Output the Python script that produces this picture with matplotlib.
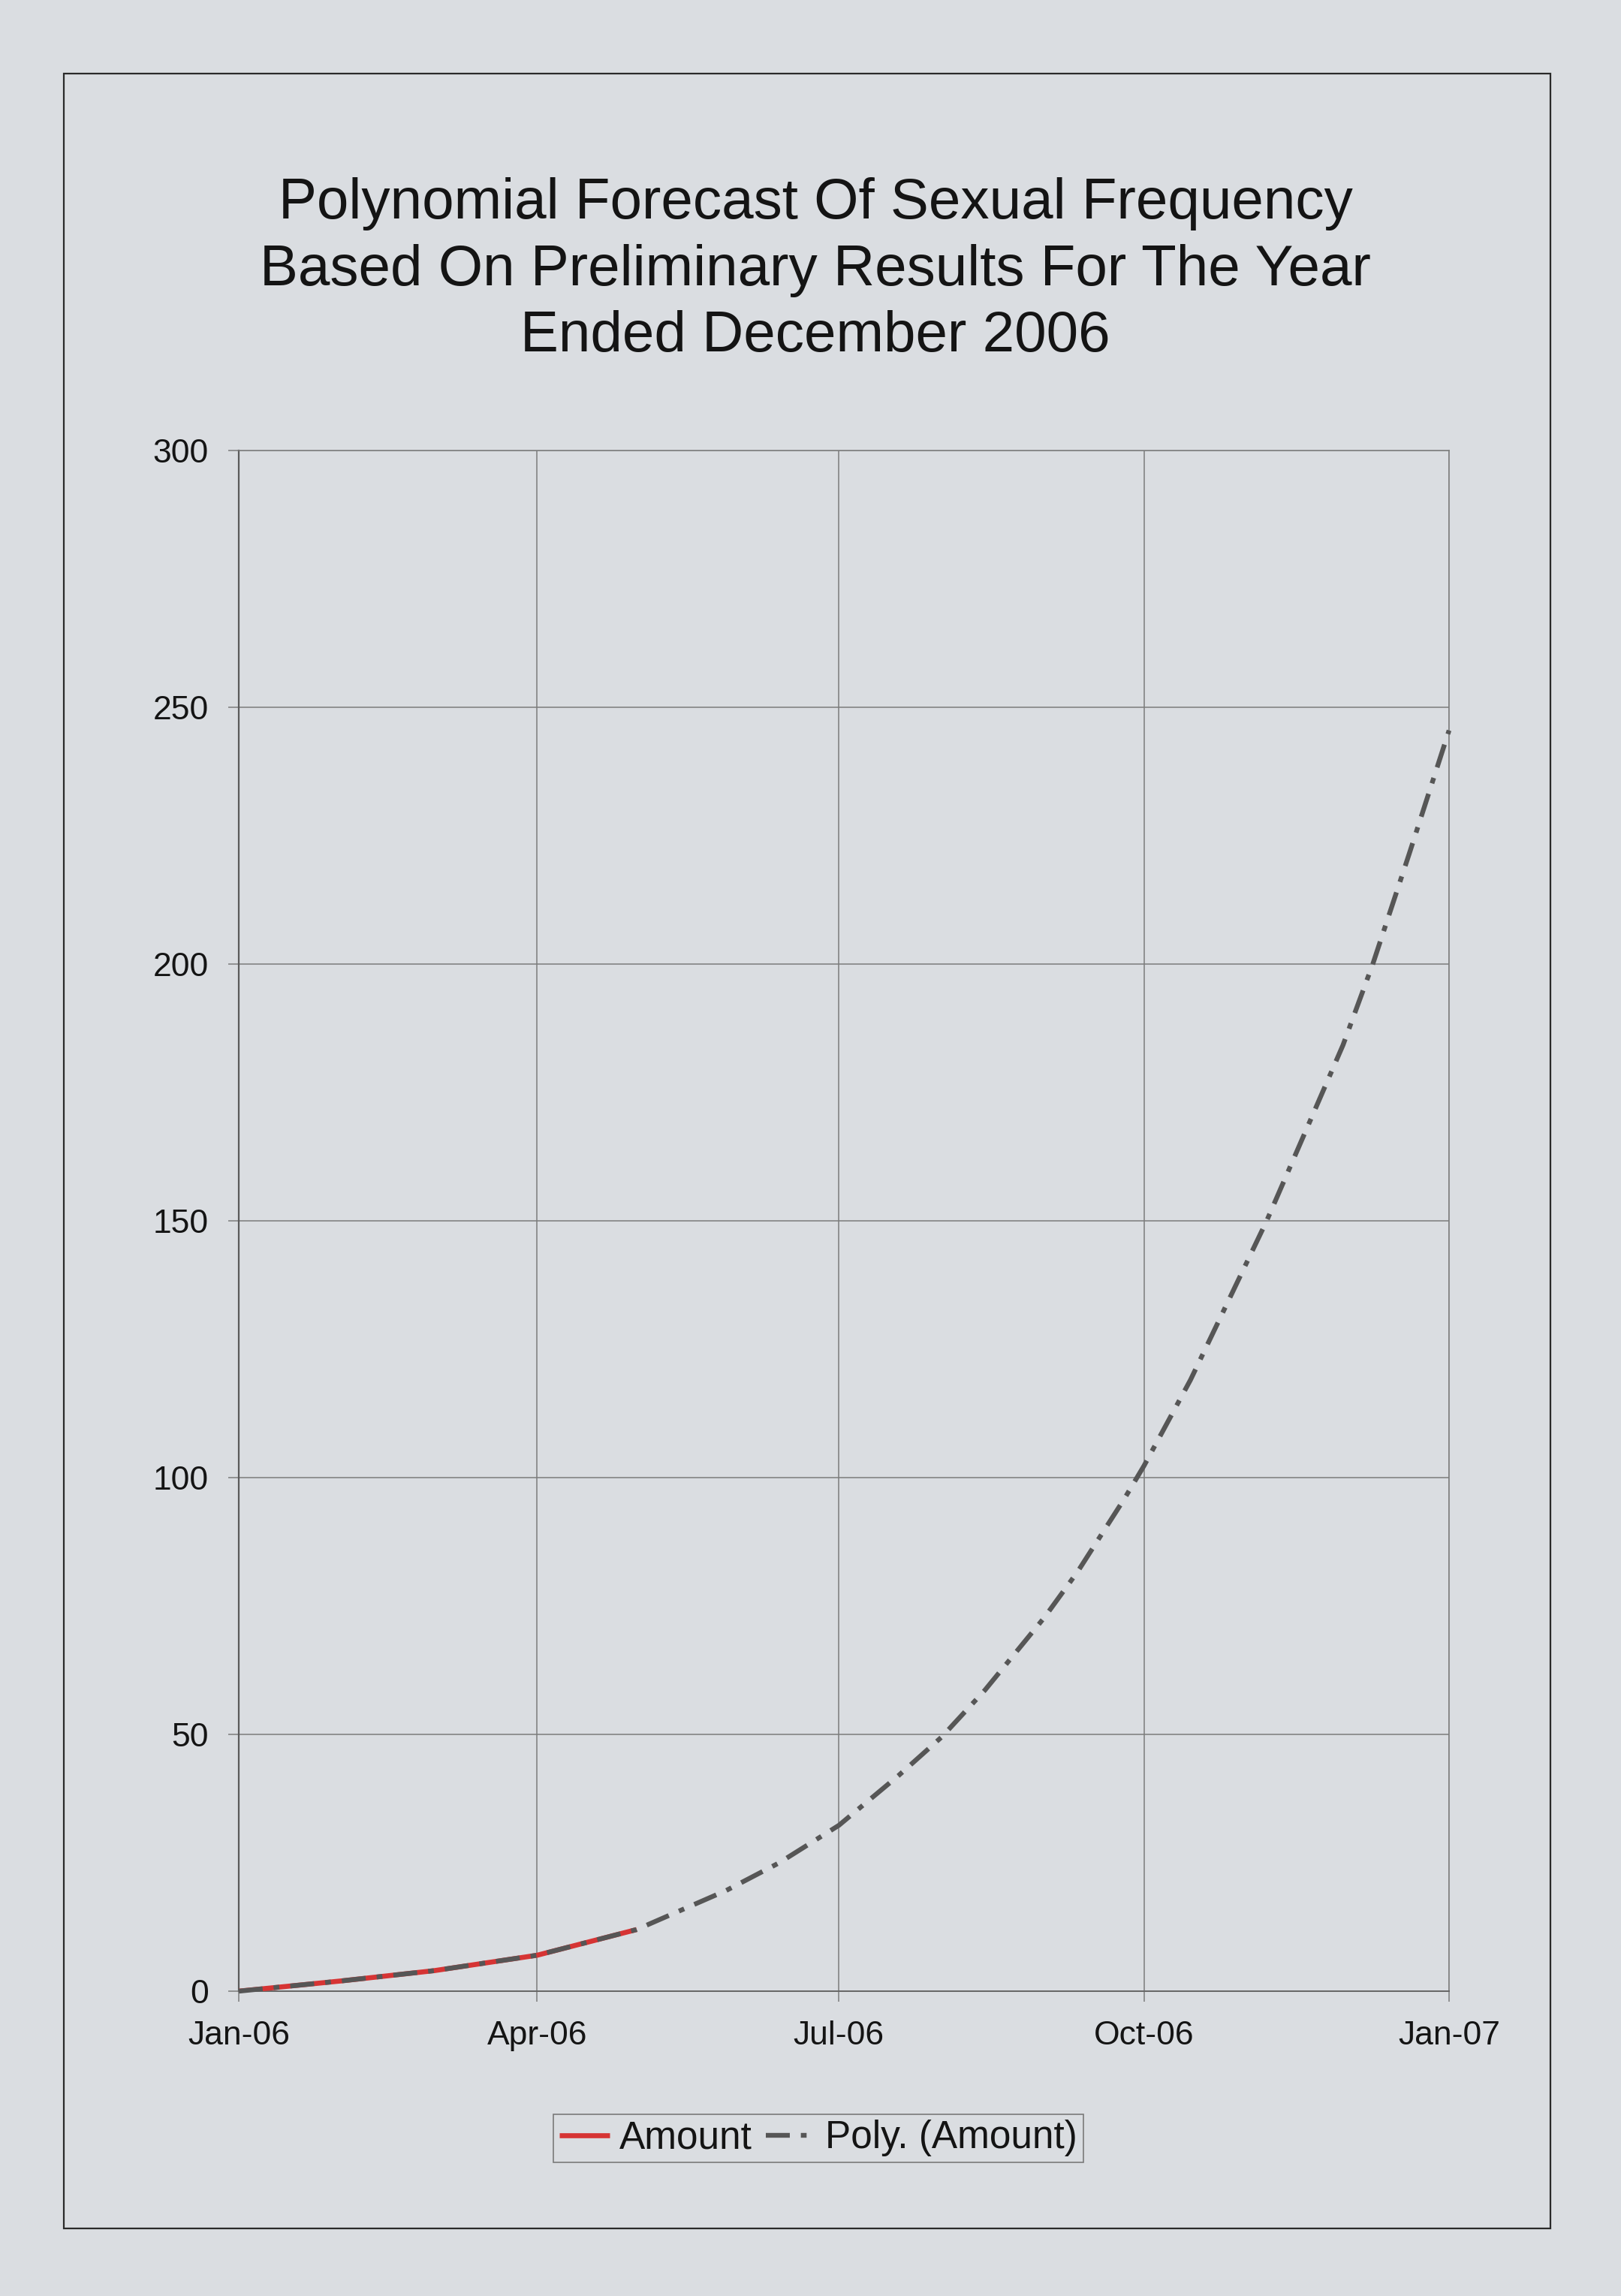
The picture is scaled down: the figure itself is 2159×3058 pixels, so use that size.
import datetime as dt
import matplotlib
matplotlib.use("Agg")
import matplotlib.pyplot as plt
import matplotlib.dates as mdates
from matplotlib.patches import Rectangle

# ---------------- data ----------------
title_text = ("Polynomial Forecast Of Sexual Frequency\n"
              "Based On Preliminary Results For The Year\n"
              "Ended December 2006")

amount_dates = ["2006-01-01", "2006-02-01", "2006-03-01", "2006-04-01", "2006-05-01"]
amount_values = [0, 2, 4, 7, 12]

trend_dates = ["2006-01-01", "2006-02-01", "2006-03-01", "2006-04-01", "2006-05-01",
               "2006-05-28", "2006-06-13", "2006-07-01", "2006-07-19", "2006-08-01",
               "2006-08-14", "2006-09-01", "2006-09-11", "2006-09-25", "2006-10-01",
               "2006-10-15", "2006-11-07", "2006-11-30", "2006-12-09", "2006-12-20",
               "2007-01-01"]
trend_values = [0, 2, 4, 7, 12, 19.6, 25, 32.3, 42, 49.5,
                58.6, 72.8, 81.7, 95.8, 102.3,
                119, 150, 184.2, 200, 221.5,
                245.5]

series_names = ["Amount", "Poly. (Amount)"]
y_ticks = [0, 50, 100, 150, 200, 250, 300]
x_tick_months = [1, 4, 7, 10]

# ---------------- style ----------------
W, H, DPI = 2159, 3058, 100
paper = "#dadde1"
text_c = "#141414"
grid_c = "#7c7c7c"
font = ["Liberation Sans", "DejaVu Sans"]
plt.rcParams["font.family"] = font

to_dt = lambda s: dt.datetime.strptime(s, "%Y-%m-%d")
ad = [to_dt(s) for s in amount_dates]
td = [to_dt(s) for s in trend_dates]

fig = plt.figure(figsize=(W / DPI, H / DPI), dpi=DPI, facecolor=paper)

# outer chart border
fig.patches.append(Rectangle((85 / W, 1 - 2968 / H), (2065 - 85) / W, (2968 - 98) / H,
                             transform=fig.transFigure, fill=False,
                             edgecolor="#2a2a2a", linewidth=1.6, zorder=0))

L, R, T, B = 318, 1930, 600, 2652
ax = fig.add_axes([L / W, 1 - B / H, (R - L) / W, (B - T) / H])
ax.set_facecolor(paper)

ax.plot(ad, amount_values, color="#d63434", linewidth=4.8,
        solid_capstyle="butt", label=series_names[0], zorder=3)
ax.plot(td, trend_values, color="#565656", linewidth=4.6,
        linestyle=(0, (5.0, 2.3, 1.2, 2.3)), dash_capstyle="butt",
        label=series_names[1], zorder=4, clip_on=False)

ax.set_ylim(0, 300)
ax.set_xlim(dt.datetime(2006, 1, 1), dt.datetime(2007, 1, 1))
ax.set_yticks(y_ticks)
ax.xaxis.set_major_locator(mdates.MonthLocator(bymonth=x_tick_months))
ax.xaxis.set_major_formatter(mdates.DateFormatter("%b-%y"))

ax.grid(True, color=grid_c, linewidth=1.1, zorder=1)
ax.set_axisbelow(True)
for side, sp in ax.spines.items():
    sp.set_color(grid_c)
    sp.set_linewidth(1.1)
ax.spines["left"].set_color("#5a5a5a")
ax.spines["left"].set_linewidth(1.6)
ax.spines["bottom"].set_color("#666666")
ax.spines["bottom"].set_linewidth(1.4)

ax.tick_params(axis="y", direction="out", length=10, width=1.1, color=grid_c,
               pad=19, labelsize=32, labelcolor=text_c)
ax.tick_params(axis="x", direction="out", length=10, width=1.1, color=grid_c,
               pad=18, labelsize=32, labelcolor=text_c)

fig.text(1086 / W, 1 - 360 / H, title_text, ha="center", va="center",
         fontsize=55, color=text_c, linespacing=1.32)

leg = fig.legend(loc="center", bbox_to_anchor=(1090 / W, 1 - 2848 / H), ncol=2,
                 fontsize=37, handlelength=1.3, handletextpad=0.25,
                 columnspacing=0.35, borderpad=0.15, fancybox=False,
                 frameon=True, facecolor=paper, edgecolor="#7a7a7a", framealpha=1)
leg.get_frame().set_linewidth(1.2)
for t in leg.get_texts():
    t.set_color(text_c)

fig.savefig("out.png", dpi=DPI, facecolor=paper)
